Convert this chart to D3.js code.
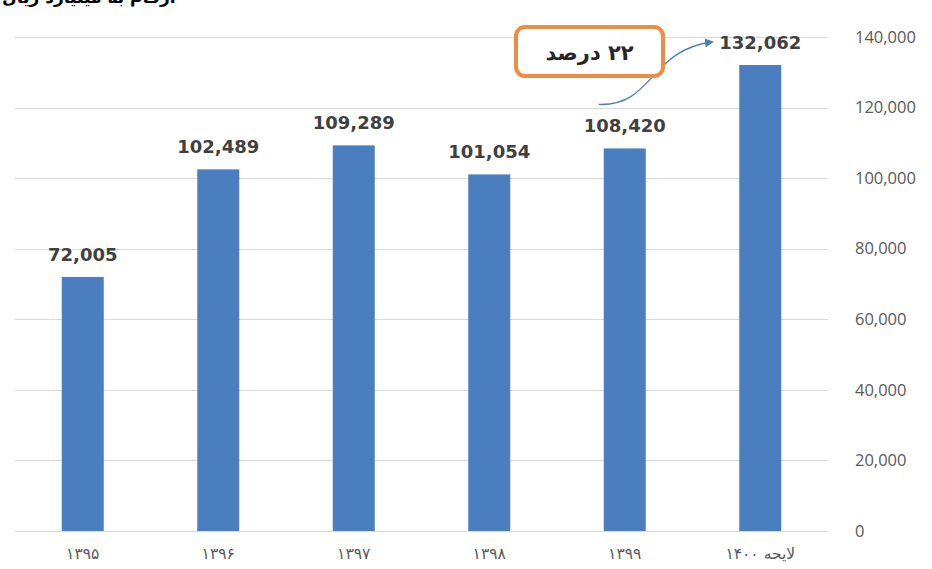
<!DOCTYPE html>
<html>
<head>
<meta charset="utf-8">
<script src="https://cdn.jsdelivr.net/npm/d3@7"></script>
<style>
  body { margin: 0; background: #fff; }
  svg { display: block; }
</style>
</head>
<body>
<script>
    // years (Persian digits), last one is the budget bill
    const years = ['۱۳۹۵', '۱۳۹۶', '۱۳۹۷', '۱۳۹۸', '۱۳۹۹', 'لایحه ۱۴۰۰'];
    const values = [72005, 102489, 109289, 101054, 108420, 132062];
    const yTicks = [0, 20000, 40000, 60000, 80000, 100000, 120000, 140000];
    const growthNote = '۲۲ درصد';

    const width = 932, height = 569;
    const margin = {top: 37, right: 104, bottom: 38, left: 15};

    const svg = d3.select('body').append('svg')
        .attr('width', width)
        .attr('height', height);

    // clipped title at the very top, only its lower part shows
    svg.append('text')
        .attr('x', 2)
        .attr('y', 3)
        .attr('font-family', 'DejaVu Sans')
        .attr('font-weight', 'bold')
        .attr('font-size', 17)
        .attr('fill', '#000')
        .text('ارقام به میلیارد ریال');

    const x = d3.scaleBand()
        .domain(years)
        .range([margin.left, width - margin.right])
        .paddingInner(0.69)
        .paddingOuter(0.345);

    const y = d3.scaleLinear()
        .domain([0, 140000])
        .range([height - margin.bottom, margin.top]);

    // gridlines
    svg.append('g')
        .selectAll('line')
        .data(yTicks)
        .join('line')
        .attr('x1', margin.left)
        .attr('x2', width - margin.right)
        .attr('y1', d => Math.round(y(d)) + 0.5)
        .attr('y2', d => Math.round(y(d)) + 0.5)
        .attr('stroke', '#d9d9d9')
        .attr('stroke-width', 1);

    // y axis on the right, no line
    const yAxis = svg.append('g')
        .attr('transform', `translate(${width - margin.right + 24},0)`)
        .call(d3.axisRight(y).tickValues(yTicks).tickSize(0).tickFormat(d3.format(',')));
    yAxis.select('.domain').remove();
    yAxis.selectAll('text')
        .attr('font-family', 'Open Sans')
        .attr('font-size', 16.5)
        .attr('fill', '#595959')
        .attr('dy', '0.32em');

    // bars
    svg.append('g')
        .selectAll('rect')
        .data(values)
        .join('rect')
        .attr('x', (d, i) => x(years[i]))
        .attr('width', x.bandwidth())
        .attr('y', d => y(d))
        .attr('height', d => y(0) - y(d))
        .attr('fill', '#4a7ebf');

    // value labels
    svg.append('g')
        .selectAll('text')
        .data(values)
        .join('text')
        .attr('x', (d, i) => x(years[i]) + x.bandwidth() / 2)
        .attr('y', d => y(d) - 16)
        .attr('text-anchor', 'middle')
        .attr('font-family', 'DejaVu Sans')
        .attr('font-weight', 'bold')
        .attr('font-size', 18)
        .attr('fill', '#404040')
        .text(d => d3.format(',')(d));

    // x axis labels
    const xAxis = svg.append('g')
        .attr('transform', `translate(0,${height - margin.bottom})`)
        .call(d3.axisBottom(x).tickSize(0).tickPadding(17));
    xAxis.select('.domain').remove();
    xAxis.selectAll('text')
        .attr('font-family', 'DejaVu Sans')
        .attr('font-size', 15.5)
        .attr('fill', '#595959');

    // growth annotation: curved arrow from 1399 label to 1400 label
    const from = {x: x(years[4]) + x.bandwidth() / 2 - 26, y: y(values[4]) - 44};
    const to = {x: x(years[5]) + x.bandwidth() / 2 - 48, y: y(values[5]) - 23};

    svg.append('defs').append('marker')
        .attr('id', 'head')
        .attr('viewBox', '0 0 10 10')
        .attr('refX', 8)
        .attr('refY', 5)
        .attr('markerWidth', 7)
        .attr('markerHeight', 7)
        .attr('orient', 'auto')
        .append('path')
        .attr('d', 'M0,0L10,5L0,10Z')
        .attr('fill', '#4a7ebf');

    const path = d3.path();
    path.moveTo(from.x, from.y);
    path.bezierCurveTo(from.x + 55, from.y + 2, from.x + 50, to.y + 8, to.x, to.y);
    svg.append('path')
        .attr('d', path.toString())
        .attr('fill', 'none')
        .attr('stroke', '#4a7ebf')
        .attr('stroke-width', 1.3)
        .attr('marker-end', 'url(#head)');

    // note box
    const box = {x: 516, y: 27, w: 147, h: 49};
    svg.append('rect')
        .attr('x', box.x)
        .attr('y', box.y)
        .attr('width', box.w)
        .attr('height', box.h)
        .attr('rx', 9)
        .attr('fill', '#fff')
        .attr('stroke', '#ee8c45')
        .attr('stroke-width', 4);
    svg.append('text')
        .attr('x', box.x + box.w / 2)
        .attr('y', box.y + box.h / 2 + 8)
        .attr('text-anchor', 'middle')
        .attr('direction', 'rtl')
        .attr('font-family', 'DejaVu Sans')
        .attr('font-weight', 'bold')
        .attr('font-size', 21)
        .attr('fill', '#262626')
        .text(growthNote);
</script>
</body>
</html>
